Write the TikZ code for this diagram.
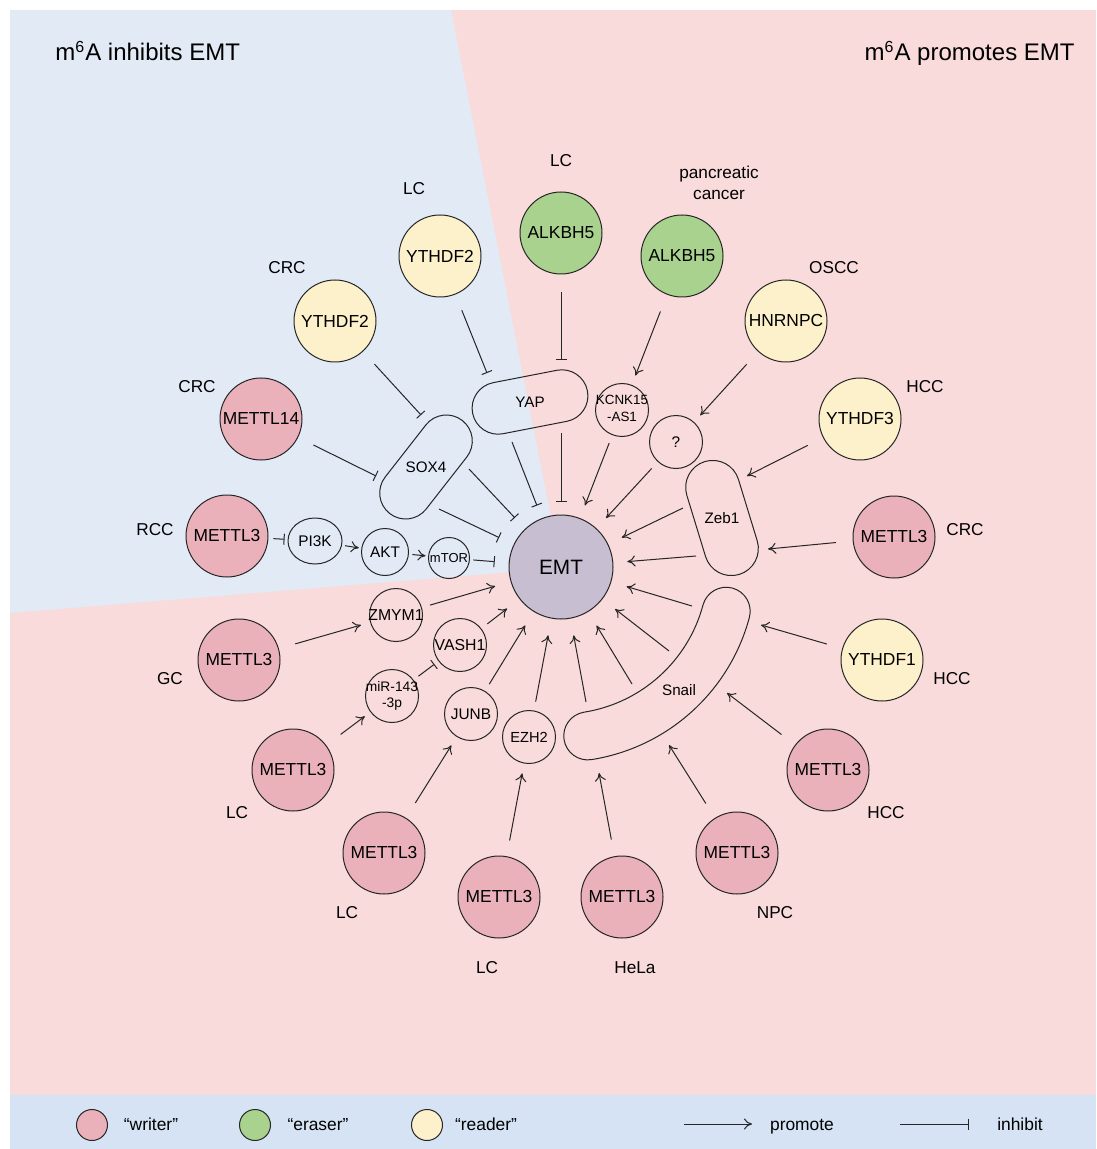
\documentclass[tikz,border=0pt]{standalone}
\usepackage{fontspec}
\setmainfont{Liberation Sans}
\usetikzlibrary{arrows.meta,shapes.geometric,calc}

\definecolor{panelpink}{RGB}{248,219,218}
\definecolor{panelblue}{RGB}{226,234,246}
\definecolor{legendblue}{RGB}{213,227,244}
\definecolor{writerpink}{RGB}{234,177,187}
\definecolor{erasergreen}{RGB}{168,210,142}
\definecolor{readeryellow}{RGB}{252,241,203}
\definecolor{emtpurple}{RGB}{200,190,210}

\newcommand{\tight}[1]{\makebox[0pt]{#1}}

\begin{document}
\begin{tikzpicture}[x=0.5pt, y=-0.5pt,
  enzyme/.style={circle, draw=black!85, line width=0.5pt, inner sep=0pt, minimum size=41pt, font=\fontsize{8.7}{10}\selectfont},
  writer/.style={enzyme, fill=writerpink},
  eraser/.style={enzyme, fill=erasergreen},
  reader/.style={enzyme, fill=readeryellow},
  relay/.style={circle, draw=black!85, line width=0.5pt, inner sep=0pt, minimum size=26.5pt, font=\fontsize{7.7}{9}\selectfont},
  pill/.style={rectangle, draw=black!85, line width=0.5pt, rounded corners=13pt, minimum width=58.5pt, minimum height=26pt, inner sep=0pt},
  pilltext/.style={inner sep=0pt, font=\fontsize{7.6}{9}\selectfont},
  cancer/.style={inner sep=0pt, font=\fontsize{8.6}{10.5}\selectfont},
  heading/.style={inner sep=0pt, font=\fontsize{12}{14}\selectfont},
  legendtext/.style={inner sep=0pt, anchor=base, font=\fontsize{8.7}{10}\selectfont},
  pro/.style={-{To[length=4pt, width=5.5pt]}, line width=0.5pt, draw=black!85},
  inh/.style={-{Bar[width=5.5pt]}, line width=0.5pt, draw=black!85}]

% background
\fill[white] (0,0) rectangle (1096,1149);
\fill[panelpink] (10,10) rectangle (1096,1095);
\fill[panelblue] (10,10) -- (451,10) -- (561,568) -- (10,613) -- cycle;
\fill[legendblue] (10,1095) rectangle (1096,1149);
\useasboundingbox (0,0) rectangle (1096,1149);

\node[heading, anchor=base west] (inh-title) at (55,61) {m\textsuperscript{6}A inhibits EMT};
\node[heading, anchor=base east] (pro-title) at (1075,61) {m\textsuperscript{6}A promotes EMT};

% m6A regulators
\node[reader] (ythA) at (440,256) {YTHDF2};
\node[reader] (ythB) at (335,321) {YTHDF2};
\node[writer] (m14) at (261,419) {METTL14};
\node[writer] (rcc) at (227,536) {METTL3};
\node[eraser] (alkA) at (561,233) {ALKBH5};
\node[eraser] (alkB) at (682,256) {ALKBH5};
\node[reader] (hnr) at (786,321) {HNRNPC};
\node[reader] (yth3) at (860,419) {YTHDF3};
\node[writer] (crc) at (894,537) {METTL3};
\node[reader] (yth1) at (882,660) {YTHDF1};
\node[writer] (hcc) at (828,770) {METTL3};
\node[writer] (npc) at (737,853) {METTL3};
\node[writer] (hela) at (622,897) {METTL3};
\node[writer] (lcA) at (499,897) {METTL3};
\node[writer] (lcB) at (384,853) {METTL3};
\node[writer] (lcC) at (293,770) {METTL3};
\node[writer] (gc) at (239,660) {METTL3};

% cancer types
\node[cancer] (ythA-lab) at (414,189) {LC};
\node[cancer] (ythB-lab) at (287,268) {CRC};
\node[cancer] (m14-lab) at (197,387) {CRC};
\node[cancer] (rcc-lab) at (155,530) {RCC};
\node[cancer] (alkA-lab) at (561,161) {LC};
\node[cancer, align=center] (alkB-lab) at (719,183) {pancreatic\\cancer};
\node[cancer] (hnr-lab) at (834,268) {OSCC};
\node[cancer] (yth3-lab) at (925,387) {HCC};
\node[cancer] (crc-lab) at (965,530) {CRC};
\node[cancer] (yth1-lab) at (952,679) {HCC};
\node[cancer] (hcc-lab) at (886,813) {HCC};
\node[cancer] (npc-lab) at (775,913) {NPC};
\node[cancer] (hela-lab) at (635,968) {HeLa};
\node[cancer] (lcA-lab) at (487,968) {LC};
\node[cancer] (lcB-lab) at (347,913) {LC};
\node[cancer] (lcC-lab) at (237,813) {LC};
\node[cancer] (gc-lab) at (170,679) {GC};

% EMT and its mediators
\node[circle, draw=black!85, line width=0.5pt, fill=emtpurple, inner sep=0pt, minimum size=52pt, font=\fontsize{10.4}{12}\selectfont] (emt) at (561,567) {EMT};

\node[pill, rotate=11] (yap) at (530,402) {};
\node[pilltext] (yap-t) at (yap) {YAP};
\node[pill, minimum width=59pt, rotate=52] (sox) at (426,467) {};
\node[pilltext] (sox-t) at (sox) {SOX4};
\node[pill, minimum width=59pt, minimum height=27pt, rounded corners=13.5pt, rotate=107] (zeb) at (722,518) {};
\node[pilltext] (zeb-t) at (zeb) {Zeb1};

\draw[line width=0.5pt, draw=black!85] ($(emt)+(-15:97.5pt)$)
  arc[start angle=-15, end angle=-81, radius=97.5pt]
  arc[start angle=-81, end angle=-261, radius=12pt]
  arc[start angle=-81, end angle=-15, radius=73.5pt]
  arc[start angle=165, end angle=-15, radius=12pt] -- cycle;
\node[pilltext] (snail-t) at (679,690) {Snail};

\node[relay, ellipse, minimum width=27pt, minimum height=23pt] (pik) at (315,541) {PI3K};
\node[relay, minimum size=23.5pt] (akt) at (385,552) {AKT};
\node[relay, minimum size=20.5pt, font=\fontsize{6.5}{8}\selectfont] (mtor) at (449,558) {\tight{mTOR}};
\node[relay, font=\fontsize{6.7}{8.5}\selectfont] (kcnk) at (622,410) {\tight{\begin{tabular}{@{}c@{}}KCNK15\\-AS1\end{tabular}}};
\node[relay] (unk) at (676,442) {?};
\node[relay, font=\fontsize{7.9}{9}\selectfont] (zmym) at (396,615) {\tight{ZMYM1}};
\node[relay, font=\fontsize{7.9}{9}\selectfont] (vash) at (460,645) {\tight{VASH1}};
\node[relay, font=\fontsize{6.9}{8}\selectfont] (mir) at (392,696) {\tight{\begin{tabular}{@{}c@{}}miR-143\\-3p\end{tabular}}};
\node[relay] (junb) at (471,714) {JUNB};
\node[relay, font=\fontsize{7.3}{9}\selectfont] (ezh) at (529,737) {EZH2};

% ports on YAP, SOX4, Zeb1 and Snail
\coordinate (yap-in1) at (487,373);
\coordinate (yap-in2) at (561,360);
\coordinate (yap-out1) at (512,442);
\coordinate (yap-out2) at (561,433);
\coordinate (sox-in1) at (421,415);
\coordinate (sox-in2) at (376,476);
\coordinate (sox-out1) at (469,469);
\coordinate (sox-out2) at (439,509);
\coordinate (zeb-in1) at (747,476);
\coordinate (zeb-in2) at (768,549);
\coordinate (zeb-out1) at (683,508);
\coordinate (zeb-out2) at (696,556);
\coordinate (snail-in1) at (761,625);
\coordinate (snail-in2) at (727,693);
\coordinate (snail-in3) at (669,745);
\coordinate (snail-in4) at (599,773);
\coordinate (snail-out1) at (692,606);
\coordinate (snail-out2) at (669,651);
\coordinate (snail-out3) at (632,684);
\coordinate (snail-out4) at (586,702);

% m6A inhibits EMT
\draw[inh, shorten <=8.5pt] (ythA) -- (yap-in1);
\draw[inh, shorten <=9pt] (alkA) -- (yap-in2);
\draw[inh, shorten <=8.5pt] (ythB) -- (sox-in1);
\draw[inh, shorten <=8.5pt] (m14) -- (sox-in2);
\draw[inh, shorten >=6.75pt] (yap-out1) -- (emt);
\draw[inh, shorten >=6.5pt] (yap-out2) -- (emt);
\draw[inh, shorten >=7.5pt] (sox-out1) -- (emt);
\draw[inh, shorten >=8pt] (sox-out2) -- (emt);
\draw[inh, shorten <=2.5pt, shorten >=1.5pt] (rcc) -- (pik);
\draw[pro, shorten <=1.5pt, shorten >=1.25pt] (pik) -- (akt);
\draw[pro, shorten <=1.75pt, shorten >=1.25pt] (akt) -- (mtor);
\draw[inh, shorten <=1.75pt, shorten >=7pt] (mtor) -- (emt);

% m6A promotes EMT
\draw[pro, shorten <=9pt, shorten >=5pt] (alkB) -- (kcnk);
\draw[pro, shorten <=4.25pt, shorten >=6.75pt] (kcnk) -- (emt);
\draw[pro, shorten <=8.5pt, shorten >=4.5pt] (hnr) -- (unk);
\draw[pro, shorten <=4.5pt, shorten >=7pt] (unk) -- (emt);
\draw[pro, shorten <=8.5pt] (yth3) -- (zeb-in1);
\draw[pro, shorten <=8.5pt] (crc) -- (zeb-in2);
\draw[pro, shorten >=7.5pt] (zeb-out1) -- (emt);
\draw[pro, shorten >=7pt] (zeb-out2) -- (emt);
\draw[pro, shorten <=8pt] (yth1) -- (snail-in1);
\draw[pro, shorten <=8.5pt] (hcc) -- (snail-in2);
\draw[pro, shorten <=8.5pt] (npc) -- (snail-in3);
\draw[pro, shorten <=8.5pt] (hela) -- (snail-in4);
\draw[pro, shorten >=8pt] (snail-out1) -- (emt);
\draw[pro, shorten >=8pt] (snail-out2) -- (emt);
\draw[pro, shorten >=8pt] (snail-out3) -- (emt);
\draw[pro, shorten >=8.5pt] (snail-out4) -- (emt);
\draw[pro, shorten <=8.5pt, shorten >=4.75pt] (gc) -- (zmym);
\draw[pro, shorten <=4.25pt, shorten >=8pt] (zmym) -- (emt);
\draw[pro, shorten <=9pt, shorten >=3.5pt] (lcC) -- (mir);
\draw[inh, shorten <=3pt, shorten >=2.5pt] (mir) -- (vash);
\draw[pro, shorten <=3.75pt, shorten >=7.75pt] (vash) -- (emt);
\draw[pro, shorten <=8.75pt, shorten >=5pt] (lcB) -- (junb);
\draw[pro, shorten <=4pt, shorten >=8pt] (junb) -- (emt);
\draw[pro, shorten <=8pt, shorten >=5pt] (lcA) -- (ezh);
\draw[pro, shorten <=4.5pt, shorten >=8.5pt] (ezh) -- (emt);

% legend
\node[writer, minimum size=15.5pt] (key-w) at (92,1125) {};
\node[legendtext] (key-wt) at (151,1130) {“writer”};
\node[eraser, minimum size=15.5pt] (key-e) at (255,1125) {};
\node[legendtext] (key-et) at (318,1130) {“eraser”};
\node[reader, minimum size=15.5pt] (key-r) at (427,1125) {};
\node[legendtext] (key-rt) at (486,1130) {“reader”};
\coordinate (key-pa) at (684,1124);
\coordinate (key-pb) at (752,1124);
\draw[pro] (key-pa) -- (key-pb);
\node[legendtext] (key-pt) at (802,1130) {promote};
\coordinate (key-ia) at (900,1124);
\coordinate (key-ib) at (969,1124);
\draw[inh] (key-ia) -- (key-ib);
\node[legendtext] (key-it) at (1020,1130) {inhibit};
\end{tikzpicture}
\end{document}
